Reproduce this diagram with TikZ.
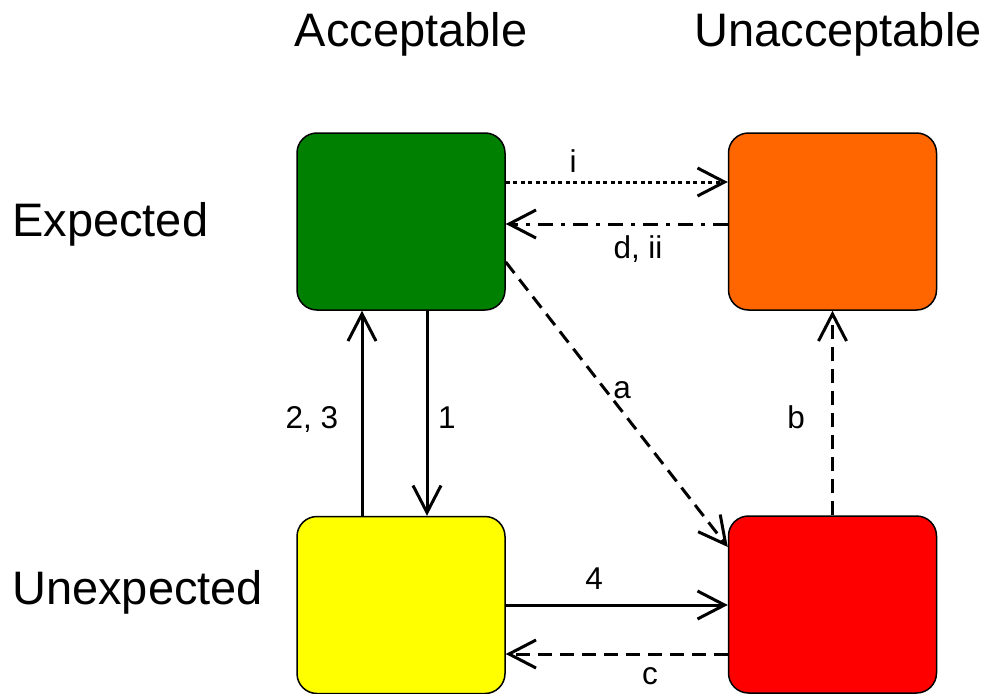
\documentclass[tikz,border=0pt]{standalone}
\usepackage{fontspec}
\setmainfont{Liberation Sans}
\usetikzlibrary{arrows.meta}
\definecolor{okgreen}{HTML}{008000}
\definecolor{warnorange}{HTML}{FF6600}
\definecolor{oddyellow}{HTML}{FFFF00}
\definecolor{badred}{HTML}{FF0000}
\begin{document}
\begin{tikzpicture}[x=1pt,y=-1pt,
  state/.style={draw=black,line width=1.5pt,rounded corners=20pt,
    minimum width=208pt,minimum height=177pt,inner sep=0pt},
  link/.style={line width=3pt,-{Straight Barb[length=27pt,width=28pt]}},
  dotline/.style={dash pattern=on 4pt off 3.5pt},
  dashline/.style={dash pattern=on 14pt off 8pt},
  dashdotline/.style={dash pattern=on 15pt off 8pt on 4pt off 8pt},
  heading/.style={font=\fontsize{47}{50}\selectfont,inner sep=0pt},
  lbl/.style={font=\fontsize{31.5}{34}\selectfont,inner sep=0pt,anchor=base}]
\useasboundingbox (0,0) rectangle (992,693);

% column and row headings
\node[heading,anchor=base] (hacc) at (411,47) {Acceptable};
\node[heading,anchor=base] (hunacc) at (838,47) {Unacceptable};
\node[heading,anchor=base west] (hexp) at (12,236) {Expected};
\node[heading,anchor=base west] (hunexp) at (12,604) {Unexpected};

% the four states
\node[state,fill=okgreen] (g) at (401,221.5) {};
\node[state,fill=warnorange] (o) at (832.5,221.5) {};
\node[state,fill=oddyellow] (y) at (401,605) {};
\node[state,fill=badred] (r) at (832.5,604.5) {};

% transitions
\draw[link,dotline] (g.east |- 0,182) -- (o.west |- 0,182);
\draw[link,dashdotline] (o.west |- 0,224) -- (g.east |- 0,224);
\draw[link,dashline] (g.east |- 0,262) -- (r.west |- 0,547);
\draw[link] (427,0 |- g.south) -- (427,0 |- y.north);
\draw[link] (362,0 |- y.north) -- (362,0 |- g.south);
\draw[link,dashline] (r.north) -- (o.south);
\draw[link] (y.east |- 0,605) -- (r.west |- 0,605);
\draw[link,dashline] (r.west |- 0,654) -- (y.east |- 0,654);

% transition labels
\node[lbl] (li) at (573,172) {i};
\node[lbl] (ld) at (638,258) {d, ii};
\node[lbl] (la) at (622,398) {a};
\node[lbl] (l1) at (447,428) {1};
\node[lbl] (l23) at (312,428) {2, 3};
\node[lbl] (lb) at (796,428) {b};
\node[lbl] (l4) at (594,589) {4};
\node[lbl] (lc) at (650,684) {c};
\end{tikzpicture}
\end{document}
